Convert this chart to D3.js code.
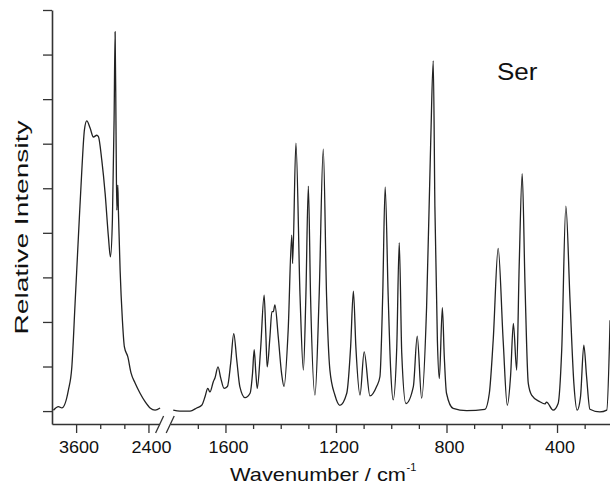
<!DOCTYPE html>
<html>
<head>
<meta charset="utf-8">
<script src="https://cdn.jsdelivr.net/npm/d3@7"></script>
<style>
  body { margin: 0; background: #fff; }
  svg { display: block; font-family: "Liberation Sans", Arial, sans-serif; }
</style>
</head>
<body>
<div id="chart"></div>
<script>
// C-H / O-H stretching region (left of the axis break)
const highWn = [3976, 3893, 3837, 3728, 3671, 3617, 3562, 3505, 3462, 3423, 3368, 3313, 3257, 3230,
    3174, 3119, 3064, 3031, 2998, 2970, 2953, 2937, 2925, 2908, 2899, 2870, 2832, 2799, 2743, 2688,
    2622, 2539, 2456, 2373, 2290, 2207];
const highInt = [0.02, 0.10, 0.07, 0.47, 0.99, 2.42, 3.91, 5.41, 6.31, 6.51, 6.35, 6.15, 6.19, 6.16,
    5.63, 4.89, 3.91, 3.46, 4.29, 6.53, 8.51, 6.16, 4.51, 5.07, 4.51, 3.16, 2.04, 1.44, 1.22, 0.85,
    0.63, 0.40, 0.21, 0.07, 0.02, 0.07];

// fingerprint region (right of the break)
const lowWn = [1789, 1765, 1728, 1704, 1686, 1674, 1664, 1656, 1644, 1638,
    1627, 1617, 1605, 1593, 1581, 1570, 1559, 1548, 1529, 1511,
    1502, 1496, 1490, 1485, 1473, 1460, 1454, 1449, 1439, 1432,
    1427, 1421, 1409, 1397, 1388, 1373, 1360, 1357, 1345, 1330,
    1318, 1309, 1300, 1292, 1276, 1261, 1246, 1234, 1222, 1204,
    1186, 1161, 1147, 1137, 1128, 1113, 1098, 1077, 1053, 1041,
    1031, 1022, 1011, 1002, 993, 980, 971, 962, 947, 920,
    906, 890, 872, 857, 848, 842, 833, 826, 815, 808,
    800, 776, 727, 661, 645, 631, 613, 595, 580, 568,
    558, 546, 537, 526, 516, 504, 492, 462, 444, 438,
    414, 396, 383, 368, 353, 339, 327, 315, 303, 293,
    281, 245, 220, 208];
const lowInt = [0.02, 0.00, 0.00, 0.07, 0.13, 0.32, 0.51, 0.43, 0.66, 0.74,
    0.99, 0.74, 0.51, 0.55, 1.08, 1.74, 1.14, 0.55, 0.30, 0.40,
    0.85, 1.38, 0.85, 0.51, 1.37, 2.60, 1.75, 0.99, 1.67, 2.23,
    2.23, 2.38, 1.67, 0.85, 0.55, 1.82, 3.95, 3.31, 6.01, 2.57,
    0.92, 2.57, 5.05, 2.57, 0.36, 2.57, 5.88, 2.57, 0.92, 0.36,
    0.13, 0.40, 1.44, 2.69, 1.44, 0.36, 1.33, 0.34, 0.55, 0.77,
    2.57, 5.03, 2.57, 0.92, 0.25, 1.44, 3.78, 1.30, 0.17, 0.55,
    1.68, 0.29, 2.34, 6.08, 7.86, 4.58, 1.59, 0.73, 2.32, 1.22,
    0.40, 0.06, 0.01, 0.04, 0.40, 1.59, 3.65, 1.59, 0.13, 0.80,
    1.97, 0.92, 3.24, 5.33, 2.87, 0.62, 0.36, 0.21, 0.16, 0.20,
    0.02, 0.17, 1.37, 4.60, 2.49, 0.62, 0.02, 0.32, 1.48, 0.77,
    0.04, -0.02, 0.02, 2.04];

const highMajor = [3600, 2400];
const highMinor = [3200, 2800];
const lowMajor = [1600, 1200, 800, 400];
const lowMinor = [1700, 1500, 1400, 1300, 1100, 1000, 900, 700, 600, 500, 300];
const yTicks = [0, 1, 2, 3, 4, 5, 6, 7, 8, 9];
const sampleName = "Ser";

const width = 610, height = 486;
const axisY = 424, axisX = 52;
const axisColor = "#333";

let svg = d3.select("#chart").append("svg")
    .attr("width", width)
    .attr("height", height);

let xHigh = d3.scaleLinear().domain([4000, 2215]).range([axisX, 159.6]);
let xLow = d3.scaleLinear().domain([1800, 205]).range([170.2, 610.9]);
let y = d3.scaleLinear().domain([-0.29, 9]).range([axisY, 10]);

let highData = highWn.map((w, i) => ({wn: w, v: highInt[i]}));
let lowData = lowWn.map((w, i) => ({wn: w, v: lowInt[i]}));

// axes
function xAxis(scale, major, minor) {
    let g = svg.append("g").attr("transform", "translate(0," + axisY + ")");
    g.append("g")
        .call(d3.axisBottom(scale).tickValues(minor).tickSize(5).tickSizeOuter(0).tickFormat(""))
        .call(a => a.select(".domain").remove());
    let maj = g.append("g")
        .call(d3.axisBottom(scale).tickValues(major).tickSize(9).tickPadding(9).tickSizeOuter(0).tickFormat(d3.format("d")));
    maj.selectAll("text")
        .attr("font-size", 16)
        .attr("font-family", "Liberation Sans, Arial, sans-serif")
        .attr("fill", "#111")
        .attr("dx", 2.5)
        .attr("textLength", d => String(d).length * 10)
        .attr("lengthAdjust", "spacingAndGlyphs");
    g.selectAll("line").attr("stroke", axisColor).attr("stroke-width", 1.3);
    g.selectAll(".domain").attr("stroke", axisColor).attr("stroke-width", 1.6);
}
xAxis(xHigh, highMajor, highMinor);
xAxis(xLow, lowMajor, lowMinor);

let yG = svg.append("g")
    .attr("transform", "translate(" + axisX + ",0)")
    .call(d3.axisLeft(y).tickValues(yTicks).tickSize(9).tickSizeOuter(0).tickFormat(""));
yG.selectAll("line").attr("stroke", axisColor).attr("stroke-width", 1.3);
yG.select(".domain").attr("stroke", axisColor).attr("stroke-width", 1.6);

// axis break marks
[xHigh.range()[1], xLow.range()[0]].forEach(bx => {
    svg.append("line")
        .attr("x1", bx - 4).attr("y1", axisY + 9)
        .attr("x2", bx + 4).attr("y2", axisY - 8)
        .attr("stroke", axisColor)
        .attr("stroke-width", 1.3);
});

// spectrum
let line = d3.line()
    .x(d => d.x)
    .y(d => y(d.v))
    .curve(d3.curveMonotoneX);

svg.append("path")
    .attr("d", line(highData.map(d => ({x: xHigh(d.wn), v: d.v}))))
    .attr("fill", "none")
    .attr("stroke", "#222")
    .attr("stroke-width", 1.3);

svg.append("path")
    .attr("d", line(lowData.map(d => ({x: xLow(d.wn), v: d.v}))))
    .attr("fill", "none")
    .attr("stroke", "#222")
    .attr("stroke-width", 1.3);

// labels
svg.append("text")
    .attr("x", 497).attr("y", 80)
    .attr("font-size", 23)
    .attr("fill", "#111")
    .attr("textLength", 40.5)
    .attr("lengthAdjust", "spacingAndGlyphs")
    .text(sampleName);

svg.append("text")
    .attr("transform", "translate(28,227.5) rotate(-90)")
    .attr("text-anchor", "middle")
    .attr("font-size", 19)
    .attr("fill", "#111")
    .attr("textLength", 214)
    .attr("lengthAdjust", "spacingAndGlyphs")
    .text("Relative Intensity");

svg.append("text")
    .attr("x", 230).attr("y", 481)
    .attr("font-size", 18.5)
    .attr("fill", "#111")
    .attr("textLength", 176)
    .attr("lengthAdjust", "spacingAndGlyphs")
    .text("Wavenumber / cm");

svg.append("text")
    .attr("x", 406.5).attr("y", 471)
    .attr("font-size", 11)
    .attr("fill", "#111")
    .text("-1");
</script>
</body>
</html>
